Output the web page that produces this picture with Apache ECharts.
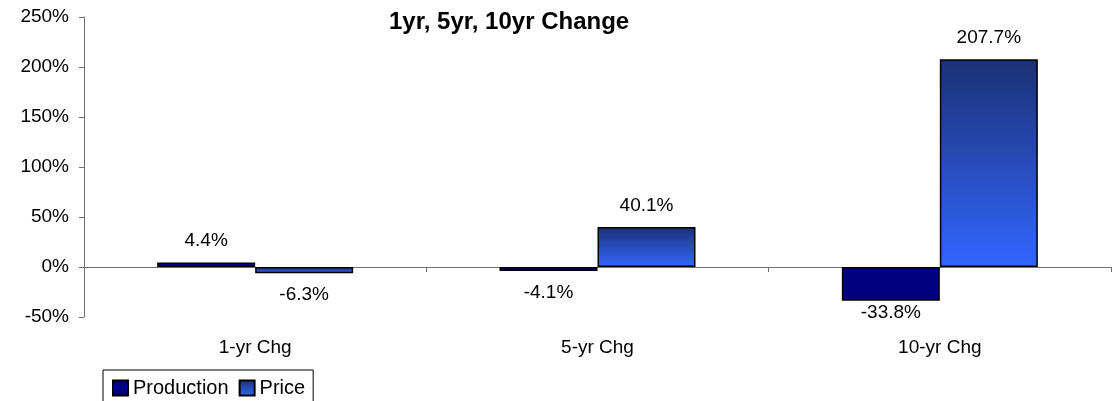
<!DOCTYPE html>
<html><head><meta charset="utf-8">
<script src="https://cdn.jsdelivr.net/npm/echarts@6/dist/echarts.min.js"></script>
<style>html,body{margin:0;padding:0;background:#fff}#c{width:1116px;height:401px}</style>
</head><body><div id="c"></div>
<script>
const categories = ['1-yr Chg', '5-yr Chg', '10-yr Chg'];
const production = [4.4, -4.1, -33.8];
const price = [-6.3, 40.1, 207.7];
const yTicks = [-50, 0, 50, 100, 150, 200, 250];

const FONT = 'Liberation Sans, Arial, sans-serif';
const priceGrad = new echarts.graphic.LinearGradient(0, 0, 0, 1, [
  {offset: 0, color: '#1b3175'}, {offset: 1, color: '#3366ff'}
]);
function items(arr) {
  return arr.map(v => ({
    value: v,
    label: {position: v >= 0 ? 'top' : 'bottom', distance: (v < yTicks[0] + 20) ? 2 : 12}
  }));
}
const labelCfg = {show: true, color: '#000', fontSize: 19, fontFamily: FONT, formatter: p => p.value.toFixed(1) + '%'};
const chart = echarts.init(document.getElementById('c'));
chart.setOption({
  animation: false,
  title: {text: '1yr, 5yr, 10yr Change', left: 384, top: 5, textStyle: {fontSize: 24, fontWeight: 'bold', fontFamily: FONT, color: '#000'}},
  grid: {left: 84, right: 5, top: 17, bottom: 84},
  legend: {
    left: 103, top: 370, orient: 'horizontal', borderColor: '#000', borderWidth: 1, borderRadius: 0,
    padding: [8, 8, 12, 9], itemGap: 10, itemWidth: 15, itemHeight: 15, icon: 'rect',
    textStyle: {fontSize: 20, fontFamily: FONT, color: '#000'},
    data: ['Production', 'Price']
  },
  xAxis: {
    type: 'category', data: categories,
    axisLine: {lineStyle: {color: '#707070'}},
    axisTick: {show: true, length: 5, lineStyle: {color: '#707070'}},
    axisLabel: {fontSize: 19, fontFamily: FONT, color: '#000', margin: 21},
  },
  yAxis: {
    type: 'value', min: yTicks[0], max: yTicks[yTicks.length - 1], interval: 50,
    axisLine: {show: true, lineStyle: {color: '#707070'}},
    axisTick: {show: true, length: 5, lineStyle: {color: '#707070'}},
    splitLine: {show: false},
    axisLabel: {fontSize: 19, fontFamily: FONT, color: '#000', margin: 15, formatter: v => v + '%'}
  },
  series: [
    {name: 'Production', type: 'bar', data: items(production), barWidth: 98, barGap: '0%',
     itemStyle: {color: '#000080', borderColor: '#000', borderWidth: 1.5}, label: labelCfg},
    {name: 'Price', type: 'bar', data: items(price), barWidth: 98, barGap: '0%',
     itemStyle: {color: priceGrad, borderColor: '#000', borderWidth: 1.5}, label: labelCfg}
  ]
});
</script></body></html>
